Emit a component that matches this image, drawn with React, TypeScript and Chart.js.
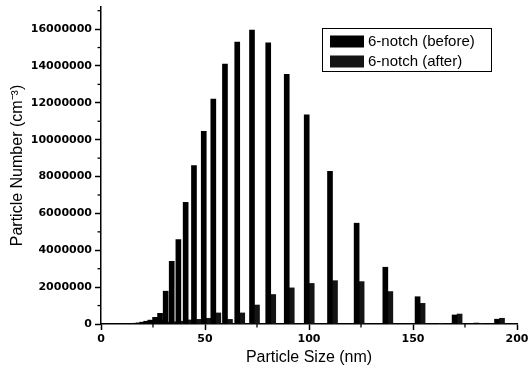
import React, { useEffect, useRef } from 'react';
import { Chart, registerables } from 'chart.js';

Chart.register(...registerables);

const sizes = [13.6, 14.8, 16.2, 17.6, 19.2, 21.0, 22.9, 24.9, 27.2, 29.6, 32.3, 35.2, 38.4, 41.9, 45.9, 50.6, 55.2, 60.8, 66.7, 73.8, 81.6, 90.5, 100.1, 111.3, 124.1, 137.9, 153.4, 162.0, 171.2, 181.7, 191.6];
const beforeValues = [5000, 15000, 25000, 40000, 60000, 100000, 150000, 210000, 360000, 580000, 1780000, 3400000, 4580000, 6600000, 8600000, 10450000, 12200000, 14100000, 15300000, 15950000, 15250000, 13550000, 11350000, 8280000, 5470000, 3080000, 1480000, 30000, 490000, 50000, 260000];
const afterValues = [3000, 8000, 15000, 25000, 40000, 60000, 80000, 110000, 150000, 200000, 100000, 120000, 150000, 220000, 250000, 310000, 600000, 250000, 600000, 1030000, 1600000, 1960000, 2200000, 2350000, 2300000, 1760000, 1120000, 20000, 540000, 30000, 310000];
const seriesLabels = ['6-notch (before)', '6-notch (after)'];
const seriesColors = ['#000000', '#141414'];
const xTicks = [0, 50, 100, 150, 200];
const xMinorTicks = [25, 75, 125, 175];
const yTicks = [0, 2000000, 4000000, 6000000, 8000000, 10000000, 12000000, 14000000, 16000000];
const yMinorTicks = [1000000, 3000000, 5000000, 7000000, 9000000, 11000000, 13000000, 15000000, 17000000];

const minorTicksPlugin = {
  id: 'minorTicks',
  afterDraw(chart: any) {
    const { ctx } = chart;
    const x = chart.scales.x;
    const y = chart.scales.y;
    ctx.save();
    ctx.strokeStyle = '#000';
    ctx.lineWidth = 1.3;
    xMinorTicks.forEach((v) => {
      const px = x.getPixelForValue(v);
      ctx.beginPath();
      ctx.moveTo(px, x.top);
      ctx.lineTo(px, x.top + 3.5);
      ctx.stroke();
    });
    yMinorTicks.forEach((v) => {
      const py = y.getPixelForValue(v);
      ctx.beginPath();
      ctx.moveTo(y.right, py);
      ctx.lineTo(y.right - 3.5, py);
      ctx.stroke();
    });
    ctx.restore();
  },
};

const boxLegendPlugin = {
  id: 'boxLegend',
  afterDraw(chart: any) {
    const { ctx, chartArea } = chart;
    const left = chartArea.right - 195;
    const top = chartArea.top + 21;
    const w = 169;
    const h = 43;
    ctx.save();
    ctx.strokeStyle = '#000';
    ctx.lineWidth = 1;
    ctx.strokeRect(left + 0.5, top + 0.5, w, h);
    ctx.font = '15px "Liberation Sans", Arial, sans-serif';
    ctx.textBaseline = 'middle';
    ctx.fillStyle = '#000';
    seriesLabels.forEach((label, i) => {
      const cy = top + 13.5 + i * 20;
      ctx.fillStyle = seriesColors[i];
      ctx.fillRect(left + 8, cy - 6, 34, 12);
      ctx.fillStyle = '#000';
      ctx.fillText(label, left + 46, cy + 0.5);
    });
    ctx.restore();
  },
};

export default function App() {
  const canvasRef = useRef<HTMLCanvasElement | null>(null);

  useEffect(() => {
    document.body.style.margin = '0';
    const canvas = canvasRef.current;
    if (!canvas) return;
    const tickFont = { family: '"DejaVu Sans", sans-serif', size: 11, weight: 'bold' as const };
    const titleFont = { family: '"Liberation Sans", Arial, sans-serif', size: 16 };
    const chart = new Chart(canvas, {
      type: 'bar',
      data: {
        datasets: [
          {
            label: seriesLabels[0],
            data: sizes.map((s, i) => ({ x: s, y: beforeValues[i] })),
            backgroundColor: seriesColors[0],
            borderWidth: 0,
          },
          {
            label: seriesLabels[1],
            data: sizes.map((s, i) => ({ x: s, y: afterValues[i] })),
            backgroundColor: seriesColors[1],
            borderWidth: 0,
          },
        ],
      },
      options: {
        responsive: false,
        maintainAspectRatio: false,
        animation: false,
        barThickness: 5,
        grouped: true,
        layout: { padding: { top: 7, right: 11, left: 0, bottom: 0 } },
        plugins: {
          legend: { display: false },
          tooltip: { enabled: false },
        },
        scales: {
          x: {
            type: 'linear',
            min: 0,
            max: 200,
            offset: false,
            afterBuildTicks: (scale: any) => {
              scale.ticks = xTicks.map((v) => ({ value: v }));
            },
            afterFit: (scale: any) => {
              scale.height = 52;
              scale.paddingLeft = 0;
              scale.paddingRight = 0;
            },
            ticks: {
              color: '#000',
              font: tickFont,
              padding: 3,
              maxRotation: 0,
              callback: (v: any) => String(v),
            },
            grid: {
              display: true,
              offset: false,
              drawOnChartArea: false,
              drawTicks: true,
              tickLength: 6,
              tickWidth: 1.5,
              tickColor: '#000',
            },
            border: { display: true, color: '#000', width: 1.5 },
            title: {
              display: true,
              text: 'Particle Size (nm)',
              color: '#000',
              font: titleFont,
              padding: { top: 0, bottom: 9 },
            },
          },
          y: {
            type: 'linear',
            min: 0,
            max: 17200000,
            afterBuildTicks: (scale: any) => {
              scale.ticks = yTicks.map((v) => ({ value: v }));
            },
            afterFit: (scale: any) => {
              scale.width = 101;
              scale.paddingTop = 0;
              scale.paddingBottom = 0;
            },
            ticks: {
              color: '#000',
              font: tickFont,
              padding: 3,
              includeBounds: false,
              callback: (v: any) => String(v),
            },
            grid: {
              display: true,
              drawOnChartArea: false,
              drawTicks: true,
              tickLength: 6,
              tickWidth: 1.5,
              tickColor: '#000',
            },
            border: { display: true, color: '#000', width: 1.5 },
            title: {
              display: true,
              text: 'Particle Number (cm\u207B\u00B3)',
              color: '#000',
              font: titleFont,
              padding: { top: 8, bottom: 0 },
            },
          },
        },
      },
      plugins: [minorTicksPlugin, boxLegendPlugin],
    } as any);
    return () => {
      chart.destroy();
    };
  }, []);

  return (
    <div style={{ width: 528, height: 376 }}>
      <canvas ref={canvasRef} width={528} height={376} style={{ display: 'block' }} />
    </div>
  );
}
